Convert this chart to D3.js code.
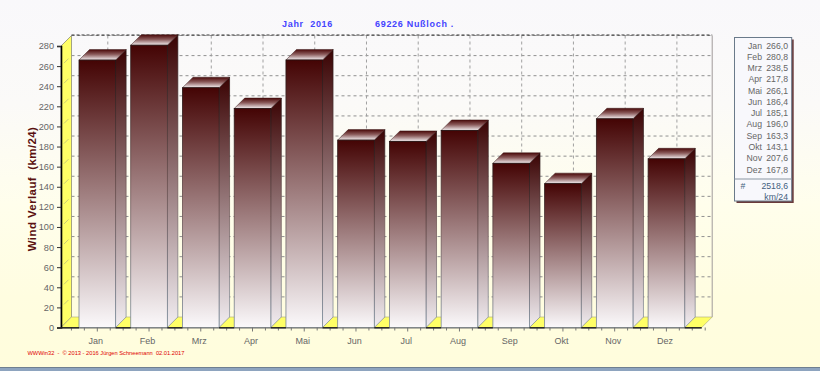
<!DOCTYPE html>
<html>
<head>
<meta charset="utf-8">
<script src="https://cdn.jsdelivr.net/npm/d3@7/dist/d3.min.js"></script>
<style>
html,body{margin:0;padding:0;background:#f9f8fb;overflow:hidden}
svg{display:block}
text{font-family:"Liberation Sans",Arial,sans-serif}
</style>
</head>
<body>
<svg id="c" width="820" height="371"></svg>
<script>
const months = ["Jan","Feb","Mrz","Apr","Mai","Jun","Jul","Aug","Sep","Okt","Nov","Dez"];
const values = [266.0,280.8,238.5,217.8,266.1,186.4,185.1,196.0,163.3,143.1,207.6,167.8];
const valueLabels = ["266,0","280,8","238,5","217,8","266,1","186,4","185,1","196,0","163,3","143,1","207,6","167,8"];
const yTicks = d3.range(0, 281, 20);
const titleLeft = "Jahr  2016";
const titleRight = "69226 Nußloch .";
const yTitle = "Wind Verlauf  (km/24)";
const footer = "WWWin32  -  © 2013 - 2016 Jürgen Schneemann  02.01.2017";
const totalLabel = "2518,6";
const totalUnit = "km/24";

const W = 820, H = 371;
const depth = 10.5;
const x0 = 61, x1 = 701.7, yBase = 327.5, yTop = 46;
const barW = 36.6;

const svg = d3.select("#c");
const defs = svg.append("defs");

function grad(id, stops, vertical = true) {
  const g = defs.append("linearGradient").attr("id", id)
    .attr("x1", 0).attr("y1", 0).attr("x2", vertical ? 0 : 1).attr("y2", vertical ? 1 : 0);
  stops.forEach(s => g.append("stop").attr("offset", s[0]).attr("stop-color", s[1]));
}
grad("bg", [[0,"#f9f8fb"],[0.28,"#fbfaf8"],[0.55,"#fffeec"],[0.8,"#fffde0"],[1,"#fffddc"]]);
grad("front", [[0,"#440404"],[1,"#fbf9fb"]]);
grad("side", [[0,"#3a0303"],[1,"#f2eef2"]]);
grad("top", [[0,"#4a0808"],[0.45,"#8a5a5a"],[1,"#f4f0f2"]]);
grad("edge", [[0,"#221010"],[0.5,"#6a5050"],[1,"#7a8a9a"]]);

// page background + window strip
svg.append("rect").attr("width", W).attr("height", H).attr("fill", "url(#bg)");
svg.append("rect").attr("x", 0).attr("y", 367).attr("width", W).attr("height", 4).attr("fill", "#8ea4bf");
svg.append("rect").attr("x", 0).attr("y", 367).attr("width", W).attr("height", 1).attr("fill", "#6f7f90");

const y = d3.scaleLinear().domain([0, 280]).range([yBase, yTop]);
const xC = d3.scalePoint().domain(months).range([97.3, 666.4]);
const xFrac = d3.scaleLinear().domain([0, months.length - 1]).range([97.3, 666.4]);

const poly = pts => pts.map(p => p.join(",")).join(" ");

// left wall
svg.append("polygon")
  .attr("points", poly([[x0,yTop],[x0+depth,yTop-depth],[x0+depth,yBase-depth],[x0,yBase]]))
  .attr("fill", "#ffff66").attr("stroke", "#666").attr("stroke-width", 0.6);
// floor
svg.append("polygon")
  .attr("points", poly([[x0,yBase],[x0+depth,yBase-depth],[x1+depth,yBase-depth],[x1,yBase]]))
  .attr("fill", "#ffff66").attr("stroke", "#a8a880").attr("stroke-width", 0.6);

// back wall grid
const grid = svg.append("g").attr("fill", "none");
grid.selectAll("line.h").data(yTicks.slice(1)).join("line").attr("class", "h")
  .attr("x1", x0 + depth).attr("x2", x1 + depth)
  .attr("y1", d => y(d) - depth).attr("y2", d => y(d) - depth)
  .attr("stroke", "#909090").attr("stroke-dasharray", "3 3");
grid.selectAll("line.v").data(months).join("line").attr("class", "v")
  .attr("x1", d => xC(d) + depth).attr("x2", d => xC(d) + depth)
  .attr("y1", yTop - depth).attr("y2", yBase - depth)
  .attr("stroke", "#a0a0a0").attr("stroke-dasharray", "3 3");
// top and right edges of the back wall
grid.append("line").attr("x1", x0 + depth).attr("x2", x1 + depth)
  .attr("y1", yTop - depth - 0.5).attr("y2", yTop - depth - 0.5)
  .attr("stroke", "#333").attr("stroke-dasharray", "3 2");
grid.append("line").attr("x1", x1 + depth).attr("x2", x1 + depth)
  .attr("y1", yTop - depth).attr("y2", yBase - depth)
  .attr("stroke", "#a09a9a");
// diagonal marks on the left wall
grid.selectAll("line.d").data(yTicks.slice(1, -1)).join("line").attr("class", "d")
  .attr("x1", x0 + 3).attr("x2", x0 + depth - 3)
  .attr("y1", d => y(d) - 3).attr("y2", d => y(d) - depth + 3)
  .attr("stroke", "#b0b080").attr("stroke-width", 0.7);

// bars
const bars = svg.append("g").selectAll("g").data(months.map((m, i) => ({m, v: values[i]}))).join("g");
const bl = d => xC(d.m) - barW / 2, br = d => xC(d.m) + barW / 2;
bars.append("polygon")
  .attr("points", d => poly([[br(d),y(d.v)],[br(d)+depth,y(d.v)-depth],[br(d)+depth,yBase-depth],[br(d),yBase]]))
  .attr("fill", "url(#side)").attr("stroke", "url(#edge)").attr("stroke-width", 0.7);
bars.append("polygon")
  .attr("points", d => poly([[bl(d),y(d.v)],[bl(d)+depth,y(d.v)-depth],[br(d)+depth,y(d.v)-depth],[br(d),y(d.v)]]))
  .attr("fill", "url(#top)").attr("stroke", "#3a1a1a").attr("stroke-width", 0.5);
bars.append("rect")
  .attr("x", bl).attr("y", d => y(d.v)).attr("width", barW).attr("height", d => yBase - y(d.v))
  .attr("fill", "url(#front)").attr("stroke", "url(#edge)").attr("stroke-width", 0.8);

// y axis
const yAxis = svg.append("g").attr("transform", `translate(${x0},0)`)
  .call(d3.axisLeft(y).tickValues(yTicks).tickSize(4).tickPadding(3).tickFormat(d3.format("d")));
yAxis.select(".domain").attr("stroke", "#000").attr("stroke-width", 1.6);
yAxis.selectAll(".tick line").attr("stroke", "#333");
yAxis.selectAll(".tick text").attr("font-size", 9.2).attr("fill", "#666")
  .attr("font-family", '"Liberation Sans",Arial,sans-serif');

// x axis
const minor = d3.range(-0.5, 11.76, 0.25);
svg.append("g").selectAll("line").data(minor).join("line")
  .attr("x1", d => xFrac(d)).attr("x2", d => xFrac(d))
  .attr("y1", yBase).attr("y2", d => yBase + (Number.isInteger(d) ? 4 : 3))
  .attr("stroke", "#777");
svg.append("line").attr("x1", x0).attr("x2", x1).attr("y1", yBase + 0.5).attr("y2", yBase + 0.5)
  .attr("stroke", "#707070").attr("stroke-width", 1);
// dark floor edges visible between bars
const floorEdges = [null].concat(months);
svg.append("g").selectAll("line").data(floorEdges).join("line")
  .attr("x1", d => d === null ? x0 : xC(d) + barW / 2)
  .attr("x2", (d, i) => i < months.length ? xC(months[i]) - barW / 2 : x1)
  .attr("y1", yBase + 0.3).attr("y2", yBase + 0.3)
  .attr("stroke", "#111").attr("stroke-width", 1.2);
svg.append("g").selectAll("text").data(months).join("text")
  .attr("x", d => xC(d) - 1.5).attr("y", yBase + 16)
  .attr("text-anchor", "middle").attr("font-size", 9).attr("fill", "#666").text(d => d);

// titles
const tStyle = s => s.attr("font-family", '"DejaVu Sans",sans-serif').attr("font-weight", "bold")
  .attr("font-size", 9).attr("fill", "#4444ff").style("white-space", "pre").style("letter-spacing", "0.7px");
svg.append("text").attr("x", 282).attr("y", 26.5).text(titleLeft).call(tStyle);
svg.append("text").attr("x", 375).attr("y", 26.5).text(titleRight).call(tStyle);

svg.append("text").attr("transform", "translate(36,189) rotate(-90)")
  .attr("text-anchor", "middle").attr("font-size", 11.5).attr("font-weight", "bold")
  .attr("fill", "#5a1010").style("white-space", "pre").style("letter-spacing", "0.4px").text(yTitle);

svg.append("text").attr("x", 27.5).attr("y", 355).attr("font-size", 5.7).attr("fill", "#e00000")
  .style("white-space", "pre").text(footer);

// legend box
const lx = 734.5, ly = 37.5, lw = 57.2, lh = 163.5, divY = 179;
svg.append("rect").attr("x", lx + 2).attr("y", ly + 2).attr("width", lw).attr("height", lh).attr("fill", "#6a3a3a");
svg.append("rect").attr("x", lx).attr("y", ly).attr("width", lw).attr("height", lh)
  .attr("fill", "#f8f8fc").attr("stroke", "#6a7a8a");
svg.append("line").attr("x1", lx).attr("x2", lx + lw).attr("y1", divY).attr("y2", divY).attr("stroke", "#8a96a2");
const rowY = d3.scalePoint().domain(months).range([48.5, 172.5]);
const legend = svg.append("g").attr("font-size", 8.7).attr("fill", "#666");
legend.selectAll("text.m").data(months).join("text").attr("class", "m")
  .attr("x", 762).attr("y", d => rowY(d)).attr("text-anchor", "end").text(d => d);
legend.selectAll("text.v").data(months).join("text").attr("class", "v")
  .attr("x", 788).attr("y", d => rowY(d)).attr("text-anchor", "end").text((d, i) => valueLabels[i]);
const tot = svg.append("g").attr("font-size", 8.7).attr("fill", "#44607e");
tot.append("text").attr("x", 743).attr("y", 189).attr("text-anchor", "middle").text("#");
tot.append("text").attr("x", 788).attr("y", 189).attr("text-anchor", "end").text(totalLabel);
tot.append("text").attr("x", 788).attr("y", 199.5).attr("text-anchor", "end").text(totalUnit);
</script>
</body>
</html>
